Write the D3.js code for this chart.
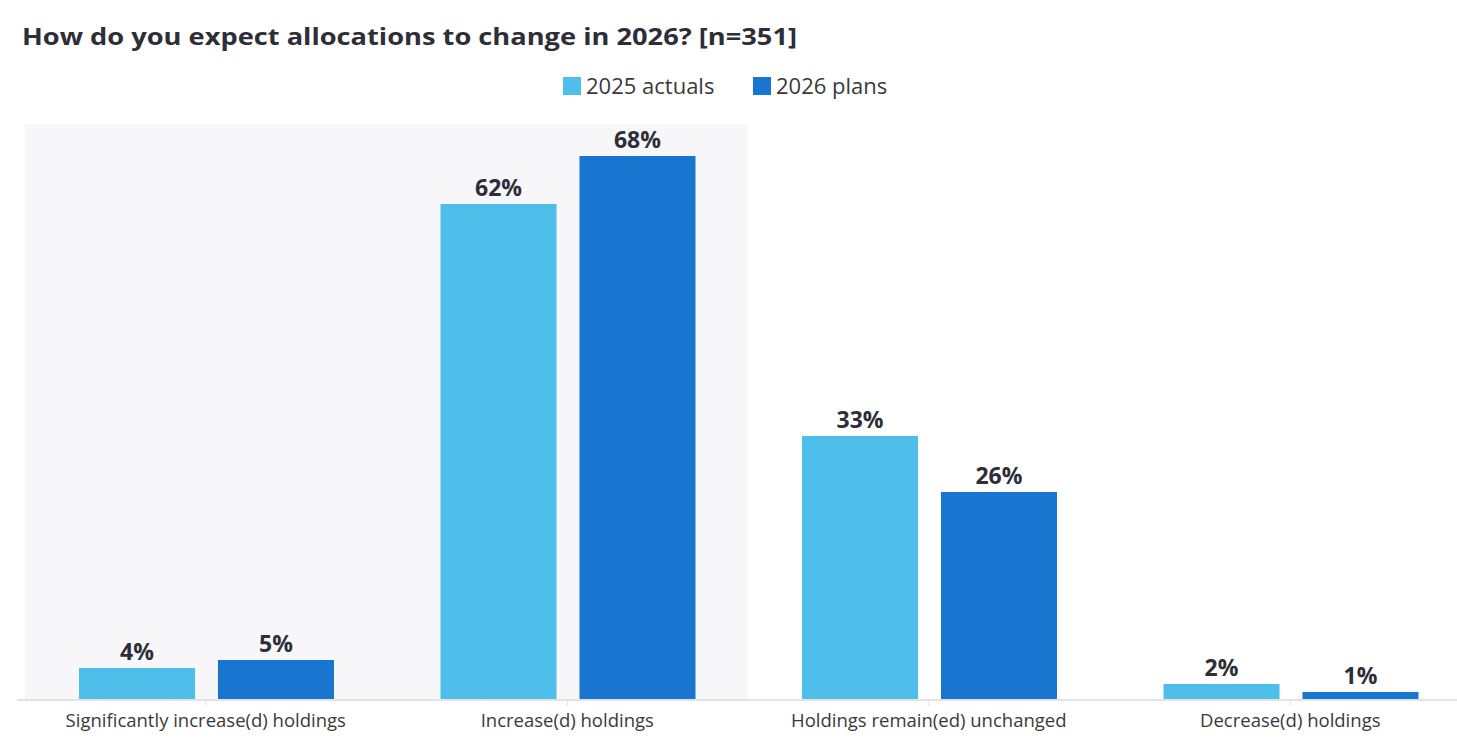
<!DOCTYPE html>
<html>
<head>
<meta charset="utf-8">
<script src="https://cdn.jsdelivr.net/npm/d3@7"></script>
<style>
  body { margin: 0; background: #fff; }
  svg text { font-family: "Open Sans", "Noto Sans", sans-serif; }
</style>
</head>
<body>
<svg id="chart" width="1457" height="751"></svg>
<script>
// chart data
const categories = ["Significantly increase(d) holdings", "Increase(d) holdings",
                    "Holdings remain(ed) unchanged", "Decrease(d) holdings"];
const seriesNames = ["2025 actuals", "2026 plans"];
const actuals2025 = [4, 62, 33, 2];
const plans2026 = [5, 68, 26, 1];
const colors = ["#4EBFEA", "#1976D0"];

const svg = d3.select("#chart");
const baseY = 700, topY = 124;

// x scale over categories, chart runs off right edge like the original
let x0 = d3.scaleBand().domain(categories).range([25, 1471]).paddingInner(0).paddingOuter(0);
let x1 = d3.scaleBand().domain(seriesNames).range([54, 309]).paddingInner(0.165);
let y = d3.scaleLinear().domain([0, 72]).range([baseY, topY]);

// shaded highlight behind first two categories
svg.append("rect")
    .attr("x", x0(categories[0]))
    .attr("y", topY)
    .attr("width", x0.step() * 2)
    .attr("height", baseY - topY)
    .attr("fill", "#F7F7F9");

// title
svg.append("text")
    .attr("x", 22).attr("y", 45)
    .attr("font-size", 24).attr("font-weight", 700)
    .attr("fill", "#2E2E38")
    .attr("textLength", 775).attr("lengthAdjust", "spacingAndGlyphs")
    .text("How do you expect allocations to change in 2026? [n=351]");

// legend
let legendX = [563, 753];
let legend = svg.selectAll("g.legend").data(seriesNames).enter()
    .append("g").classed("legend", true)
    .attr("transform", (d, i) => `translate(${legendX[i]},77)`);
legend.append("rect").attr("width", 18).attr("height", 18).attr("fill", (d, i) => colors[i]);
legend.append("text")
    .attr("x", 23).attr("y", 17)
    .attr("font-size", 22).attr("fill", "#3a3a3a")
    .text(d => d);

// bars
let rows = categories.map((c, i) => ({ cat: c, vals: [actuals2025[i], plans2026[i]] }));
let groups = svg.selectAll("g.cat").data(rows).enter()
    .append("g").classed("cat", true)
    .attr("transform", d => `translate(${x0(d.cat)},0)`);

let bars = groups.selectAll("g.bar")
    .data(d => d.vals.map((v, i) => ({ s: seriesNames[i], v: v, i: i })))
    .enter().append("g").classed("bar", true);

bars.append("rect")
    .attr("x", d => x1(d.s))
    .attr("y", d => y(d.v))
    .attr("width", x1.bandwidth())
    .attr("height", d => baseY - y(d.v))
    .attr("fill", d => colors[d.i]);

bars.append("text")
    .attr("x", d => x1(d.s) + x1.bandwidth() / 2)
    .attr("y", d => y(d.v) - 8)
    .attr("text-anchor", "middle")
    .attr("font-size", 23).attr("font-weight", 700)
    .attr("fill", "#2E2E38")
    .text(d => d.v + "%");

// x axis
let axis = svg.append("g")
    .attr("transform", `translate(0,${baseY})`)
    .call(d3.axisBottom(x0).tickSize(6).tickPadding(8));
axis.select(".domain").attr("stroke", "#E3E3E6").attr("stroke-width", 2)
    .attr("d", `M17,0H1457`);
axis.selectAll(".tick line").attr("stroke", "#E3E3E6").attr("y1", -1);
axis.selectAll(".tick text")
    .attr("font-size", 18.5).attr("fill", "#3a3a3a")
    .attr("font-family", "'Open Sans', sans-serif");
</script>
</body>
</html>
